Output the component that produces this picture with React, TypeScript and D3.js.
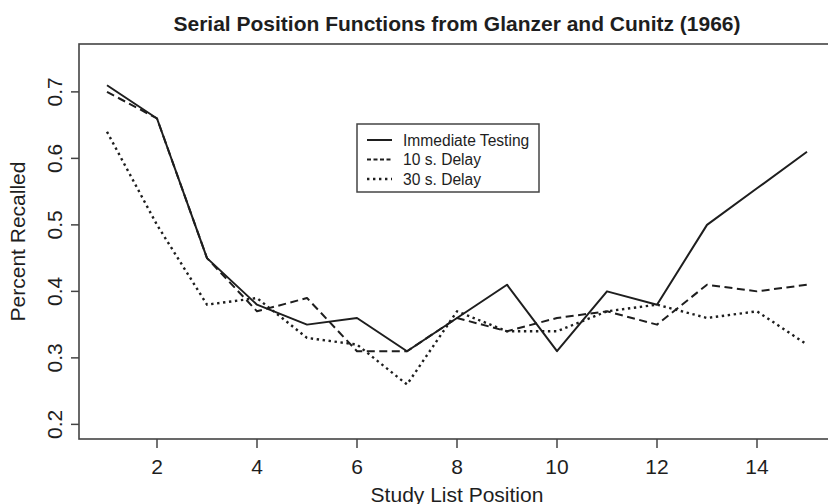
import React from "react";
import * as d3 from "d3";

const positions = [1, 2, 3, 4, 5, 6, 7, 8, 9, 10, 11, 12, 13, 14, 15];
const immediate = [0.71, 0.66, 0.45, 0.38, 0.35, 0.36, 0.31, 0.36, 0.41, 0.31, 0.40, 0.38, 0.50, 0.555, 0.61];
const delay10 = [0.70, 0.66, 0.45, 0.37, 0.39, 0.31, 0.31, 0.36, 0.34, 0.36, 0.37, 0.35, 0.41, 0.40, 0.41];
const delay30 = [0.64, 0.50, 0.38, 0.39, 0.33, 0.32, 0.26, 0.37, 0.34, 0.34, 0.37, 0.38, 0.36, 0.37, 0.32];
const xTicks = [2, 4, 6, 8, 10, 12, 14];
const yTicks = [0.2, 0.3, 0.4, 0.5, 0.6, 0.7];
const seriesNames = ["Immediate Testing", "10 s. Delay", "30 s. Delay"];
const title = "Serial Position Functions from Glanzer and Cunitz (1966)";
const xLabel = "Study List Position";
const yLabel = "Percent Recalled";

const W = 828;
const H = 504;
const left = 79;
const right = 835;
const top = 44;
const bottom = 439;
const ink = "#1e1e1e";
const font = "'Liberation Sans', Arial, Helvetica, sans-serif";

export default function App() {
  const x = d3.scaleLinear().domain([0.44, 15.56]).range([left, right]);
  const y = d3.scaleLinear().domain([0.178, 0.772]).range([bottom, top]);
  const line = d3
    .line<number>()
    .x((_, i) => x(positions[i]))
    .y((d) => y(d));

  const series = [
    { name: seriesNames[0], values: immediate, dash: "none", width: 2 },
    { name: seriesNames[1], values: delay10, dash: "8,4.5", width: 2 },
    { name: seriesNames[2], values: delay30, dash: "2.4,3.6", width: 2.4 },
  ];

  const lg = { x0: 357, y0: 124, w: 182, h: 68, rows: [140, 159.5, 179], lx0: 367, lx1: 392, tx: 403 };

  return (
    <svg
      width={W}
      height={H}
      style={{ position: "fixed", left: 0, top: 0, background: "#fff" }}
      fontFamily={font}
    >
      <rect x={0} y={0} width={W} height={H} fill="#fff" />
      <text x={(left + right) / 2} y={31} textAnchor="middle" fontWeight="bold" fontSize={21} fill={ink}>
        {title}
      </text>

      {series.map((s) => (
        <path
          key={s.name}
          d={line(s.values) || ""}
          fill="none"
          stroke={ink}
          strokeWidth={s.width}
          strokeDasharray={s.dash}
          strokeLinejoin="round"
        />
      ))}

      <rect x={left} y={top} width={right - left} height={bottom - top} fill="none" stroke="#444" strokeWidth={1.6} />

      {xTicks.map((t) => (
        <g key={"x" + t}>
          <line x1={x(t)} x2={x(t)} y1={bottom} y2={bottom + 9} stroke="#444" strokeWidth={1.5} />
          <text x={x(t)} y={473.5} textAnchor="middle" fontSize={21} fill={ink}>
            {t}
          </text>
        </g>
      ))}
      {yTicks.map((t) => (
        <g key={"y" + t}>
          <line x1={left - 8} x2={left} y1={y(t)} y2={y(t)} stroke="#444" strokeWidth={1.5} />
          <text
            transform={`translate(62,${y(t)}) rotate(-90)`}
            textAnchor="middle"
            fontSize={21}
            fill={ink}
          >
            {d3.format(".1f")(t)}
          </text>
        </g>
      ))}

      <text x={(left + right) / 2} y={501.5} textAnchor="middle" fontSize={21} fill={ink}>
        {xLabel}
      </text>
      <text
        transform={`translate(25,${(top + bottom) / 2}) rotate(-90)`}
        textAnchor="middle"
        fontSize={21}
        fill={ink}
      >
        {yLabel}
      </text>

      <rect x={lg.x0} y={lg.y0} width={lg.w} height={lg.h} fill="#fff" stroke="#444" strokeWidth={1.5} />
      {series.map((s, i) => (
        <g key={"lg" + s.name}>
          <line
            x1={lg.lx0}
            x2={lg.lx1}
            y1={lg.rows[i]}
            y2={lg.rows[i]}
            stroke={ink}
            strokeWidth={s.width}
            strokeDasharray={i === 1 ? "4,2.5" : s.dash}
          />
          <text x={lg.tx} y={lg.rows[i] + 5.5} fontSize={15.6} fill={ink}>
            {s.name}
          </text>
        </g>
      ))}
    </svg>
  );
}
